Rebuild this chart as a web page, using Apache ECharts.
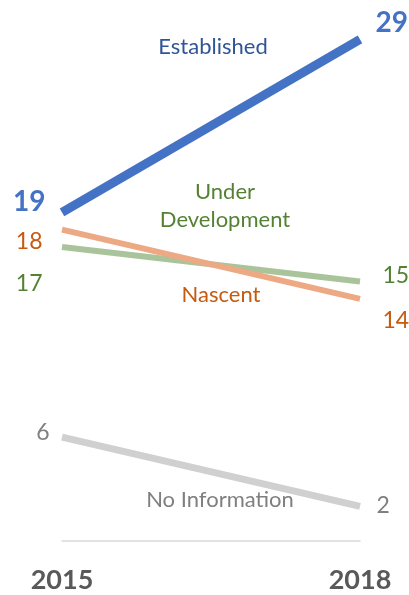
<!DOCTYPE html>
<html>
<head>
<meta charset="utf-8">
<script src="https://cdn.jsdelivr.net/npm/echarts@6/dist/echarts.min.js"></script>
<style>html,body{margin:0;padding:0;background:#fff;}#c{width:409px;height:595px;}</style>
</head>
<body>
<div id="c"></div>
<script>
var years = ['2015', '2018'];
var seriesNames = ['Established', 'Under Development', 'Nascent', 'No Information'];
var established = [19, 29];
var underDevelopment = [17, 15];
var nascent = [18, 14];
var noInformation = [6, 2];

var FONT = 'Lato';
var chart = echarts.init(document.getElementById('c'));

function pts(values, color, bold, size, leftCfg, rightCfg) {
  var cfgs = [leftCfg, rightCfg];
  return values.map(function (v, i) {
    var c = cfgs[i];
    return {
      value: v,
      label: {
        show: true,
        position: i === 0 ? 'left' : 'right',
        distance: c.d,
        offset: c.o,
        color: color,
        fontFamily: FONT,
        fontWeight: bold ? 'bold' : 'normal',
        fontSize: size,
        formatter: '{c}'
      }
    };
  });
}

function line(name, values, color, width, z, labelColor, bold, size, l, r) {
  return {
    name: name,
    type: 'line',
    data: pts(values, labelColor, bold, size, l, r),
    symbol: 'circle',
    symbolSize: 1,
    itemStyle: { color: 'rgba(0,0,0,0)' },
    lineStyle: { color: color, width: width, cap: 'butt' },
    z: z,
    silent: true,
    animation: false
  };
}

// series name labels placed near the middle of each line
var names = [
  { text: 'Established', x: 213, y: 47, color: '#2f5597' },
  { text: 'Under\nDevelopment', x: 225, y: 206, color: '#548235' },
  { text: 'Nascent', x: 221, y: 295, color: '#c55a11' },
  { text: 'No Information', x: 220, y: 500, color: '#7f7f7f' }
];

chart.setOption({
  animation: false,
  grid: { left: 62, right: 49, top: 22, bottom: 54 },
  xAxis: {
    type: 'category',
    data: years,
    boundaryGap: false,
    axisLine: { show: true, lineStyle: { color: '#d9d9d9', width: 1.5 } },
    axisTick: { show: false },
    axisLabel: { color: '#595959', fontFamily: FONT, fontWeight: 'bold', fontSize: 27, margin: 26 },
    splitLine: { show: false }
  },
  yAxis: {
    type: 'value', min: 0, max: 30, interval: 10,
    show: false, splitLine: { show: false }
  },
  series: [
    line(seriesNames[3], noInformation, '#d0d0d0', 7, 1, '#7f7f7f', false, 23,
      { d: 12, o: [0, -5] }, { d: 16, o: [0, -1] }),
    line(seriesNames[1], underDevelopment, '#a9c49b', 6, 2, '#548235', false, 23,
      { d: 19, o: [0, 37] }, { d: 22, o: [0, -6] }),
    line(seriesNames[2], nascent, '#eca984', 6, 3, '#c55a11', false, 23,
      { d: 19, o: [0, 12] }, { d: 22, o: [0, 22] }),
    line(seriesNames[0], established, '#4472c4', 9, 4, '#4472c4', true, 28,
      { d: 16, o: [0, -10] }, { d: 15, o: [0, -16] })
  ],
  graphic: names.map(function (n) {
    return {
      type: 'text', x: n.x, y: n.y, silent: true,
      style: {
        text: n.text, fill: n.color, font: '22px ' + FONT,
        align: 'center', verticalAlign: 'middle', lineHeight: 28
      }
    };
  })
});
</script>
</body>
</html>
